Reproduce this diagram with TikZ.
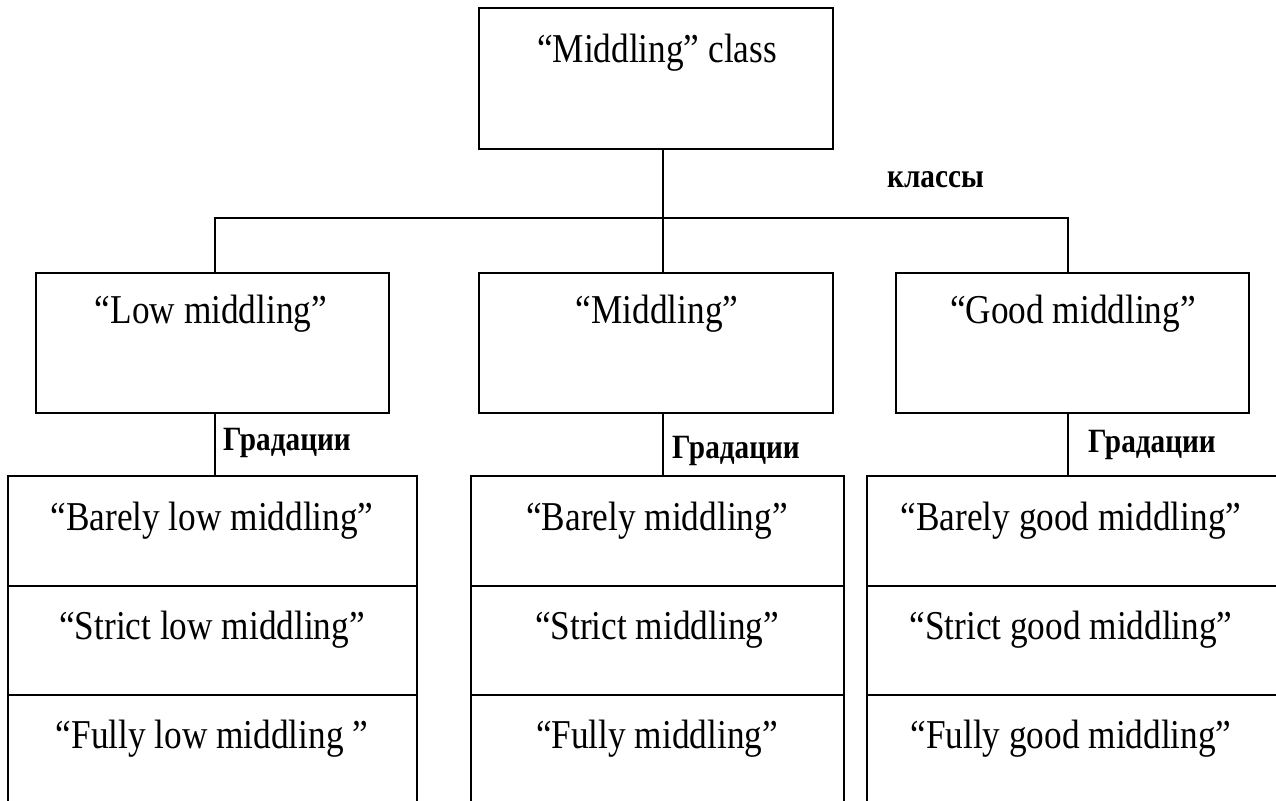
\documentclass[tikz,border=0pt]{standalone}
\usepackage{fontspec}
\setmainfont{Liberation Serif}[FakeStretch=0.86]
\begin{document}
\begin{tikzpicture}[x=1pt,y=-1pt,
  box/.style={draw, line width=1.5pt, rectangle, inner sep=0pt},
  lbl/.style={anchor=base, inner sep=0pt, font=\fontsize{41}{45}\selectfont},
  tag/.style={anchor=base west, inner sep=0pt, font=\fontsize{34}{38}\selectfont\bfseries},
  link/.style={line width=1.5pt}]
\useasboundingbox (0,0) rectangle (1276,800);
\clip (0,0) rectangle (1276,800);
% top
\node[box, minimum width=354pt, minimum height=141pt] (top) at (656,78.5) {};
\node[lbl] (toptxt) at (657,63) {“Middling” class};
% level 2
\node[box, minimum width=353pt, minimum height=140pt] (low) at (212.5,343) {};
\node[lbl] (lowtxt) at (211,323) {“Low middling”};
\node[box, minimum width=354pt, minimum height=140pt] (mid) at (656,343) {};
\node[lbl] (midtxt) at (657,323) {“Middling”};
\node[box, minimum width=353pt, minimum height=140pt] (good) at (1072.5,343) {};
\node[lbl] (goodtxt) at (1073,323) {“Good middling”};
% level 3 left
\node[box, minimum width=409pt, minimum height=110pt] (lowA) at (212.5,531) {};
\node[box, minimum width=409pt, minimum height=109pt] (lowB) at (212.5,640.5) {};
\node[box, minimum width=409pt, minimum height=110pt] (lowC) at (212.5,750) {};
\node[lbl] (lowAt) at (212,530) {“Barely low middling”};
\node[lbl] (lowBt) at (212,639) {“Strict low middling”};
\node[lbl] (lowCt) at (212,748) {“Fully low middling ”};
% level 3 middle
\node[box, minimum width=373pt, minimum height=110pt] (midA) at (657.5,531) {};
\node[box, minimum width=373pt, minimum height=109pt] (midB) at (657.5,640.5) {};
\node[box, minimum width=373pt, minimum height=110pt] (midC) at (657.5,750) {};
\node[lbl] (midAt) at (657,530) {“Barely middling”};
\node[lbl] (midBt) at (657,639) {“Strict middling”};
\node[lbl] (midCt) at (657,748) {“Fully middling”};
% level 3 right
\node[box, minimum width=411pt, minimum height=110pt] (goodA) at (1072.5,531) {};
\node[box, minimum width=411pt, minimum height=109pt] (goodB) at (1072.5,640.5) {};
\node[box, minimum width=411pt, minimum height=110pt] (goodC) at (1072.5,750) {};
\node[lbl] (goodAt) at (1071,530) {“Barely good middling”};
\node[lbl] (goodBt) at (1071,639) {“Strict good middling”};
\node[lbl] (goodCt) at (1071,748) {“Fully good middling”};
% connectors
\coordinate (j) at (663,218);
\coordinate (jl) at (215,218);
\coordinate (jr) at (1068,218);
\draw[link] (top.south -| j) -- (mid.north -| j);
\draw[link] (low.north -| jl) -- (jl) -- (jr) -- (good.north -| jr);
\draw[link] (low.south -| jl) -- (lowA.north -| jl);
\draw[link] (mid.south -| j) -- (midA.north -| j);
\draw[link] (good.south -| jr) -- (goodA.north -| jr);
% labels
\node[tag] (cls) at (887,187) {классы};
\node[tag] (gr1) at (223,450) {Градации};
\node[tag] (gr2) at (672,458) {Градации};
\node[tag] (gr3) at (1088,452) {Градации};
\end{tikzpicture}
\end{document}
